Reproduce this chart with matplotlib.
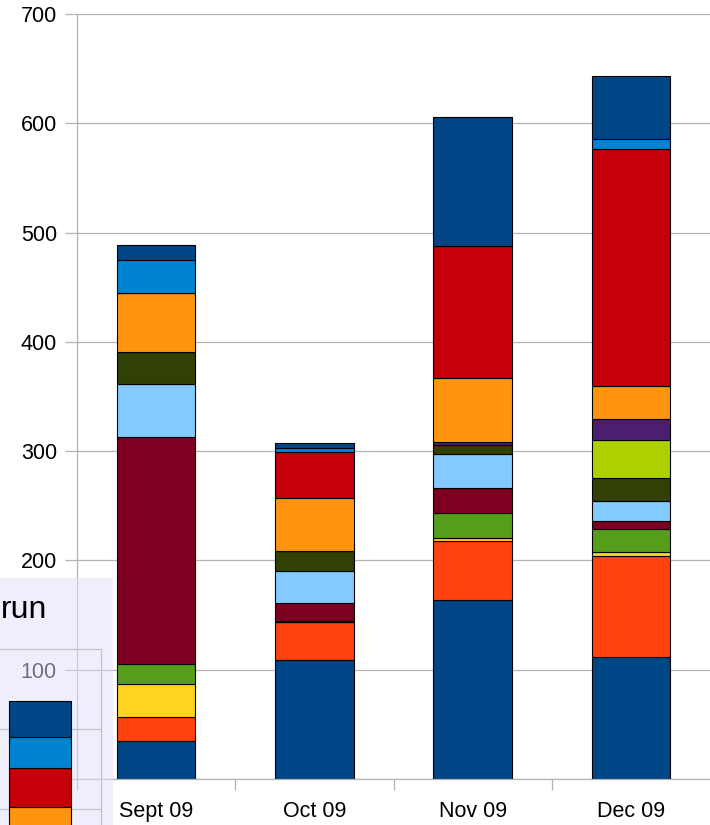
import matplotlib.pyplot as plt
import numpy as np

plt.rcParams['font.family'] = ['Liberation Sans', 'DejaVu Sans']

months = ['Sept 09', 'Oct 09', 'Nov 09', 'Dec 09']

# series colours, bottom of the stack first (13th wraps back to the first)
palette = ['#004586', '#ff420e', '#ffd320', '#579d1c', '#7e0021', '#83caff',
           '#314004', '#aecf00', '#4b1f6f', '#ff950e', '#c5000b', '#0084d1',
           '#004586']

# stacked values per month, same order as palette
sept = [35, 22, 30, 18, 208, 48, 30, 0, 0, 54, 0, 30, 14]
oct_ = [108.5, 35, 0.5, 1, 16, 29.5, 18.5, 0, 0, 48.5, 42, 3, 5]
nov = [164, 54, 2.5, 23, 23, 31, 8, 0, 2.5, 59, 121, 0, 118]
dec = [112, 92, 4, 20.5, 8, 18, 21, 34.5, 19, 31, 216.5, 9, 58]

# small bar of the "run" window, bottom first
run_bar = [102, 49, 39, 45]
run_colors = ['#ff950e', '#c5000b', '#0084d1', '#004586']

W, H = 710, 825
fig = plt.figure(figsize=(W / 100, H / 100), dpi=100)
grey = '#b3b3b3'


def px(x0, y_top, x1, y_bot):
    # pixel box -> figure fraction [left, bottom, width, height]
    return [x0 / W, (H - y_bot) / H, (x1 - x0) / W, (y_bot - y_top) / H]


ax = fig.add_axes(px(77, 14, 710, 779))
data = np.array([sept, oct_, nov, dec]).T
x = np.arange(len(months))
bottom = np.zeros(len(months))
for vals, col in zip(data, palette):
    ax.bar(x, vals, 0.495, bottom=bottom, color=col, edgecolor='black',
           linewidth=0.8)
    bottom += vals

ax.set_xlim(-0.5, 3.5)
ax.set_ylim(0, 700)
ax.set_yticks(np.arange(0, 701, 100))
ax.yaxis.grid(True, color=grey, linewidth=0.9)
ax.set_axisbelow(True)
ax.set_xticks(x)
ax.set_xticklabels(months)
ax.set_xticks([-0.5, 0.5, 1.5, 2.5], minor=True)
ax.tick_params(axis='x', which='major', length=0, pad=15.5, labelsize=15.5)
ax.tick_params(axis='x', which='minor', length=8, width=0.9, color=grey)
ax.tick_params(axis='y', length=8.6, width=0.9, color=grey, pad=5.8,
               labelsize=15.5)
for side in ('top', 'right'):
    ax.spines[side].set_visible(False)
for side in ('left', 'bottom'):
    ax.spines[side].set_color(grey)
    ax.spines[side].set_linewidth(0.9)

# half transparent "run" window sitting over the lower left corner
ov = fig.add_axes(px(0, 578, 113, 825), zorder=5)
ov.set_facecolor((225 / 255, 225 / 255, 249 / 255, 0.5))
ov.set_xticks([])
ov.set_yticks([])
for s in ov.spines.values():
    s.set_visible(False)
fig.text(1 / W, (H - 618) / H, 'run', ha='left', va='baseline',
         fontsize=23, zorder=6)

inset = fig.add_axes(px(-20, 649, 101, 889), zorder=6)
inset.patch.set_visible(False)
inset.set_xlim(-0.5, 0.5)
inset.set_ylim(0, 300)
inset.set_yticks([100, 200])
inset.yaxis.grid(True, color='#c4c4c8', linewidth=0.9)
inset.set_axisbelow(True)
inset.set_xticks([])
inset.tick_params(axis='y', length=0, labelleft=False)
for side in ('left', 'bottom'):
    inset.spines[side].set_visible(False)
for side in ('top', 'right'):
    inset.spines[side].set_color('#c4c4c8')
    inset.spines[side].set_linewidth(0.9)
b = 0
for v, col in zip(run_bar, run_colors):
    inset.bar(-0.005, v, 0.512, bottom=b, color=col, edgecolor='black',
              linewidth=0.8)
    b += v

fig.savefig('out.png', dpi=100)
